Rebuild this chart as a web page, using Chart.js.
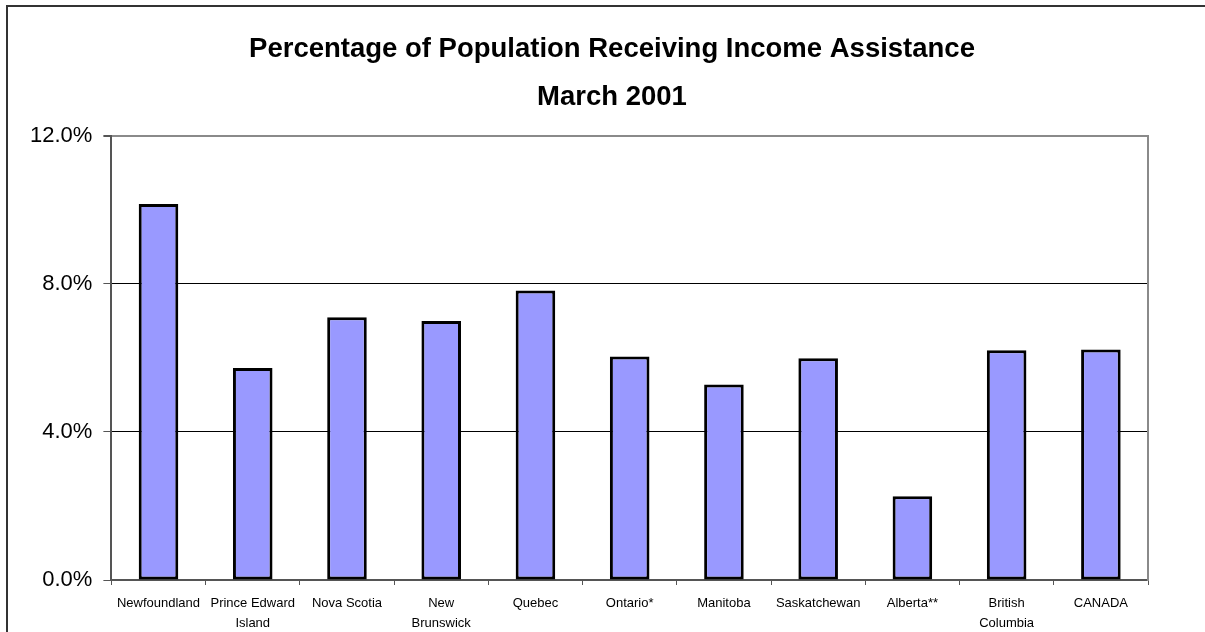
<!DOCTYPE html>
<html>
<head>
<meta charset="utf-8">
<script src="https://cdn.jsdelivr.net/npm/chart.js@4"></script>
<style>
  html, body { margin: 0; padding: 0; background: #fff; }
  #wrap { position: relative; width: 1205px; height: 632px; overflow: hidden; }
  #frame {
    position: absolute; left: 6px; top: 5px; width: 1300px; height: 700px;
    border-left: 2px solid #333; border-top: 2px solid #333; pointer-events: none;
  }
  canvas { position: absolute; left: 0; top: 0; }
</style>
</head>
<body>
<div id="wrap">
  <canvas id="chart" width="1205" height="632"></canvas>
  <div id="frame"></div>
</div>
<script>
// data
const provinces = [
  "Newfoundland",
  ["Prince Edward", "Island"],
  "Nova Scotia",
  ["New", "Brunswick"],
  "Quebec",
  "Ontario*",
  "Manitoba",
  "Saskatchewan",
  "Alberta**",
  ["British", "Columbia"],
  "CANADA"
];
const pctReceiving = [10.16, 5.73, 7.10, 7.00, 7.82, 6.04, 5.28, 5.99, 2.26, 6.21, 6.23];
const yTicks = [0, 4, 8, 12];
const titleLines = ["Percentage of Population Receiving Income Assistance", "March 2001"];

const FONT = "'Liberation Sans', Arial, sans-serif";

new Chart(document.getElementById("chart"), {
  type: "bar",
  data: {
    labels: provinces,
    datasets: [{
      data: pctReceiving,
      backgroundColor: "#9999ff",
      borderColor: "#000",
      borderWidth: 3,
      borderSkipped: false,
      barPercentage: 0.42,
      categoryPercentage: 1
    }]
  },
  options: {
    responsive: false,
    animation: false,
    layout: { padding: { left: 19, right: 0, top: 0, bottom: -10 } },
    plugins: {
      legend: { display: false },
      tooltip: { enabled: false },
      title: {
        display: true,
        text: titleLines,
        color: "#000",
        font: { family: FONT, size: 27.5, weight: "bold", lineHeight: 1.76 },
        padding: { top: 25, bottom: 14 }
      }
    },
    scales: {
      x: {
        offset: true,
        grid: {
          offset: true,
          drawOnChartArea: false,
          tickLength: 5,
          tickColor: "#555"
        },
        border: { color: "#555", width: 2 },
        ticks: {
          color: "#000",
          padding: 9,
          maxRotation: 0,
          autoSkip: false,
          font: { family: FONT, size: 13, lineHeight: 1.5 }
        }
      },
      y: {
        min: 0,
        max: 12,
        afterBuildTicks(axis) {
          axis.ticks = yTicks.map(v => ({ value: v }));
        },
        grid: {
          color: ctx => {
            const v = ctx.tick ? ctx.tick.value : null;
            if (v === 12) return "#8a8a8a";
            if (v === 0) return "rgba(0,0,0,0)";
            return "#000";
          },
          lineWidth: ctx => (ctx.tick && ctx.tick.value === 12 ? 2 : 1),
          tickLength: 8,
          tickColor: "#555"
        },
        border: { color: "#555", width: 2 },
        ticks: {
          color: "#000",
          padding: 11,
          font: { family: FONT, size: 22 },
          callback: v => v.toFixed(1) + "%"
        }
      },
      // empty right axis: gives the grey right edge of the plot box and the right margin
      yRight: {
        position: "right",
        min: 0,
        max: 12,
        grid: { drawOnChartArea: false, drawTicks: false },
        border: { color: "#8a8a8a", width: 2 },
        ticks: { display: false },
        afterFit(axis) { axis.width = 57; }
      }
    }
  }
});
</script>
</body>
</html>
